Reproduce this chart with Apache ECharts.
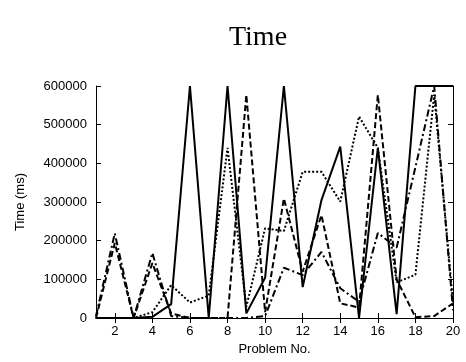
<!DOCTYPE html>
<html>
<head>
<meta charset="utf-8">
<script src="https://cdn.jsdelivr.net/npm/echarts@6/dist/echarts.min.js"></script>
<style>
html,body{margin:0;padding:0;background:#fff;}
#chart{width:466px;height:362px;}
</style>
</head>
<body>
<div id="chart"></div>
<script>
const problems = ['1','2','3','4','5','6','7','8','9','10','11','12','13','14','15','16','17','18','19','20'];
const solidSeries   = [0, 0, 0, 3000, 36000, 600000, 0, 600000, 12000, 104000, 600000, 80000, 305000, 443000, 0, 440000, 10000, 600000, 600000, 600000];
const dottedSeries  = [0, 0, 0, 15000, 85000, 40000, 58000, 440000, 29000, 232000, 225000, 378000, 378000, 301000, 521000, 440000, 92000, 112000, 578000, 40000];
const dashedSeries  = [0, 194000, 0, 142000, 12000, 0, 0, 0, 577000, 15000, 309000, 120000, 266000, 38000, 27000, 577000, 100000, 2000, 5000, 38000];
const dashDotSeries = [5000, 219000, 0, 168000, 5000, 0, 0, 0, 0, 5000, 130000, 111000, 171000, 77000, 42000, 220000, 182000, 390000, 600000, 20000];
const yMin = 0, yMax = 600000, yStep = 100000;

const chart = echarts.init(document.getElementById('chart'), null, {renderer: 'canvas'});
const font = 'Liberation Sans, Arial, sans-serif';
const evenOnly = (i) => i % 2 === 1;
const axisLine = {show: true, lineStyle: {color: '#000', width: 1}};

function mkLine(data, type, width) {
  return {
    type: 'line', data: data, symbol: 'none', clip: true, animation: false,
    lineStyle: {color: '#000', width: width, type: type}
  };
}

chart.setOption({
  animation: false,
  backgroundColor: '#fff',
  title: {
    text: 'Time', left: 258, top: 24, textAlign: 'center', padding: 0,
    textStyle: {fontFamily: 'Liberation Serif, Times New Roman, serif', fontSize: 28, fontWeight: 'normal', color: '#000'}
  },
  grid: {left: 96, top: 86, right: 13, bottom: 44, containLabel: false},
  xAxis: [{
    type: 'category', data: problems, boundaryGap: false, position: 'bottom',
    name: 'Problem No.', nameLocation: 'middle', nameGap: 24,
    nameTextStyle: {fontFamily: font, fontSize: 13, color: '#000'},
    axisLine: axisLine,
    axisTick: {show: true, inside: true, length: 5, interval: evenOnly, lineStyle: {color: '#000'}},
    axisLabel: {show: true, interval: evenOnly, margin: 7, fontFamily: font, fontSize: 13, color: '#000'},
    splitLine: {show: false}
  }, {
    type: 'category', data: problems, boundaryGap: false, position: 'top',
    axisLine: axisLine,
    axisTick: {show: true, inside: true, length: 5, interval: evenOnly, lineStyle: {color: '#000'}},
    axisLabel: {show: false}, splitLine: {show: false}
  }],
  yAxis: [{
    type: 'value', min: yMin, max: yMax, interval: yStep, position: 'left',
    name: 'Time (ms)', nameLocation: 'middle', nameGap: 69, nameRotate: 90,
    nameTextStyle: {fontFamily: font, fontSize: 13, color: '#000'},
    axisLine: axisLine,
    axisTick: {show: true, inside: true, length: 5, lineStyle: {color: '#000'}},
    axisLabel: {show: true, margin: 9, fontFamily: font, fontSize: 13, color: '#000', formatter: (v) => String(v)},
    splitLine: {show: false}
  }, {
    type: 'value', min: yMin, max: yMax, interval: yStep, position: 'right',
    axisLine: axisLine,
    axisTick: {show: true, inside: true, length: 5, lineStyle: {color: '#000'}},
    axisLabel: {show: false}, splitLine: {show: false}
  }],
  series: [
    mkLine(solidSeries, 'solid', 2),
    mkLine(dottedSeries, [2, 2], 2),
    mkLine(dashedSeries, [6, 3], 2),
    mkLine(dashDotSeries, [7, 3, 2, 3], 2)
  ]
});
</script>
</body>
</html>
